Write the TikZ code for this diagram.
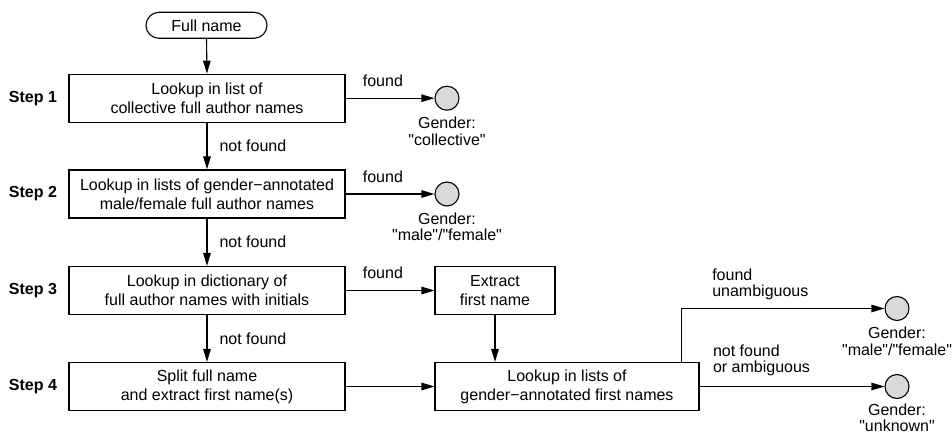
\documentclass[tikz,border=0pt]{standalone}
\usepackage{fontspec}
\setmainfont{Liberation Sans}[Ligatures=TeXOff]
\usetikzlibrary{arrows.meta,shapes.misc}
\begin{document}
\begin{tikzpicture}[x=1pt,y=-1pt,
  every node/.style={inner sep=0pt},
  txt/.style={font=\fontsize{16}{19}\selectfont},
  box/.style={txt, draw, line width=1.1pt, minimum height=48pt, align=center},
  pill/.style={txt, draw, line width=1.1pt, rounded rectangle, minimum width=121pt, minimum height=26pt},
  endpt/.style={circle, draw, line width=1.1pt, fill=black!15, minimum size=24pt},
  steplbl/.style={font=\fontsize{16}{19}\selectfont\bfseries},
  lbl/.style={font=\fontsize{16}{16.5}\selectfont},
  gender/.style={lbl, align=center, anchor=north},
  arr/.style={draw, line width=1.1pt, -{Triangle[length=13pt,width=7.5pt]}},
]
\useasboundingbox (0,0) rectangle (952,435);

\node[pill] (start) at (206.5,25.3) {Full name};
\node[box, minimum width=276pt] (s1) at (207,98.2) {Lookup in list of\\collective full author names};
\node[box, minimum width=276pt] (s2) at (207,194) {Lookup in lists of gender−annotated\\male/female full author names};
\node[box, minimum width=276pt] (s3) at (207,290.5) {Lookup in dictionary of\\full author names with initials};
\node[box, minimum width=276pt] (s4) at (207,386.5) {Split full name\\and extract first name(s)};
\node[box, minimum width=120pt] (ext) at (495,290.5) {Extract\\first name};
\node[box, minimum width=264pt] (lk) at (567,386.5) {Lookup in lists of\\gender−annotated first names};

\node[steplbl] (t1) at (33,98.2) {Step 1};
\node[steplbl] (t2) at (33,194) {Step 2};
\node[steplbl] (t3) at (33,290.5) {Step 3};
\node[steplbl] (t4) at (33,386.5) {Step 4};

\node[endpt] (c1) at (447,98.2) {};
\node[endpt] (c2) at (447,194) {};
\node[endpt] (c3) at (897,308.5) {};
\node[endpt] (c4) at (897,386.5) {};

\node[gender] (g1) at ([yshift=-6pt]c1.south) {Gender:\\"collective"};
\node[gender] (g2) at ([yshift=-6pt]c2.south) {Gender:\\"male"/"female"};
\node[gender] (g3) at ([yshift=-6pt]c3.south) {Gender:\\"male"/"female"};
\node[gender] (g4) at ([yshift=-4.5pt]c4.south) {Gender:\\"unknown"};

\draw[arr] (start.south) -- (s1.north);
\draw[arr] (s1.south) -- node[lbl, right=12pt] {not found} (s2.north);
\draw[arr] (s2.south) -- node[lbl, right=12pt] {not found} (s3.north);
\draw[arr] (s3.south) -- node[lbl, right=12pt] {not found} (s4.north);

\draw[arr] (s1.east) -- node[lbl, pos=0.42, above=11pt] {found} (c1.west);
\draw[arr] (s2.east) -- node[lbl, pos=0.42, above=11pt] {found} (c2.west);
\draw[arr] (s3.east) -- node[lbl, pos=0.42, above=11pt] {found} (ext.west);
\draw[arr] (s4.east) -- (lk.west);
\draw[arr] (ext.south) -- (ext.south |- lk.north);

\coordinate (br) at ([xshift=-18.3pt]lk.north east);
\draw[arr] (br) |- node[lbl, align=left, pos=0.575, anchor=south west, yshift=8pt] {found\\unambiguous} (c3.west);
\draw[arr] (lk.east) -- node[lbl, align=left, pos=0.07, anchor=south west, yshift=10pt] {not found\\or ambiguous} (c4.west);
\end{tikzpicture}
\end{document}
